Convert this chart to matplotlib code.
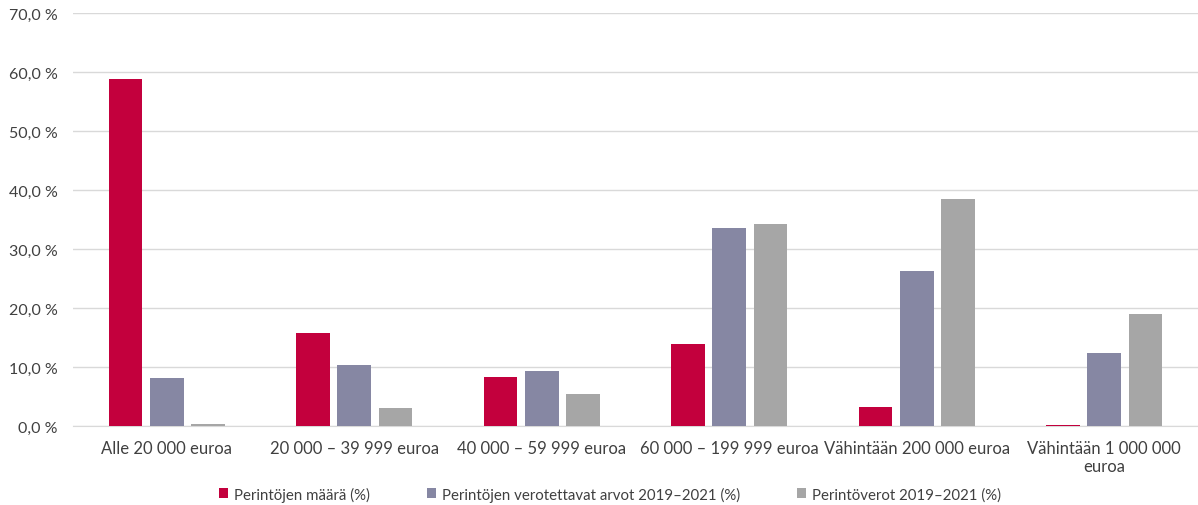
import numpy as np
import matplotlib
matplotlib.use("Agg")
import matplotlib.pyplot as plt
from matplotlib.ticker import FuncFormatter, MultipleLocator

# inheritance size classes and shares (%)
categories = ["Alle 20 000 euroa", "20 000 – 39 999 euroa", "40 000 – 59 999 euroa",
              "60 000 – 199 999 euroa", "Vähintään 200 000 euroa",
              "Vähintään 1 000 000\neuroa"]
count_share = [58.8, 15.8, 8.3, 13.9, 3.2, 0.2]
value_share = [8.1, 10.3, 9.3, 33.5, 26.2, 12.3]
tax_share = [0.3, 3.0, 5.4, 34.2, 38.4, 18.9]
series_names = ["Perintöjen määrä (%)",
                "Perintöjen verotettavat arvot 2019–2021 (%)",
                "Perintöverot 2019–2021 (%)"]
colors = ["#c3003d", "#8687a3", "#a6a6a6"]

plt.rcParams['font.family'] = ['Lato', 'DejaVu Sans']
txt = "#404040"

fig = plt.figure(figsize=(11.98, 5.06), dpi=100)
ax = fig.add_axes([73 / 1198, 1 - 427 / 506, 1 - 73 / 1198, (427 - 14) / 506])

x = np.arange(len(categories))
w = 0.18
step = 0.22
for k, (vals, name, c) in enumerate(zip([count_share, value_share, tax_share], series_names, colors)):
    ax.bar(x + (k - 1) * step, vals, w, color=c, label=name, zorder=3)

ax.set_xlim(-0.5, len(categories) - 0.5)
ax.set_ylim(0, 70)
ax.yaxis.set_major_locator(MultipleLocator(10))
ax.yaxis.set_major_formatter(FuncFormatter(lambda v, p: f"{v:.1f} %".replace(".", ",")))
ax.grid(axis="y", color="#d9d9d9", linewidth=1, zorder=0)
for s in ["top", "right", "left"]:
    ax.spines[s].set_visible(False)
ax.spines["bottom"].set_color("#d9d9d9")
ax.tick_params(axis="y", length=0, labelsize=11.5, colors=txt, pad=11)
ax.tick_params(axis="x", length=0, labelsize=12, colors=txt, pad=10)
ax.set_xticks(x)
ax.set_xticklabels(categories, ha="center", va="top")

leg = fig.legend(loc="center", bbox_to_anchor=(610 / 1198, 1 - 495 / 506), ncol=3,
                 frameon=False, fontsize=10.8, handlelength=0.6, handleheight=0.6,
                 handletextpad=0.4, columnspacing=3.8)
for t in leg.get_texts():
    t.set_color(txt)

fig.savefig("out.png", dpi=100)
